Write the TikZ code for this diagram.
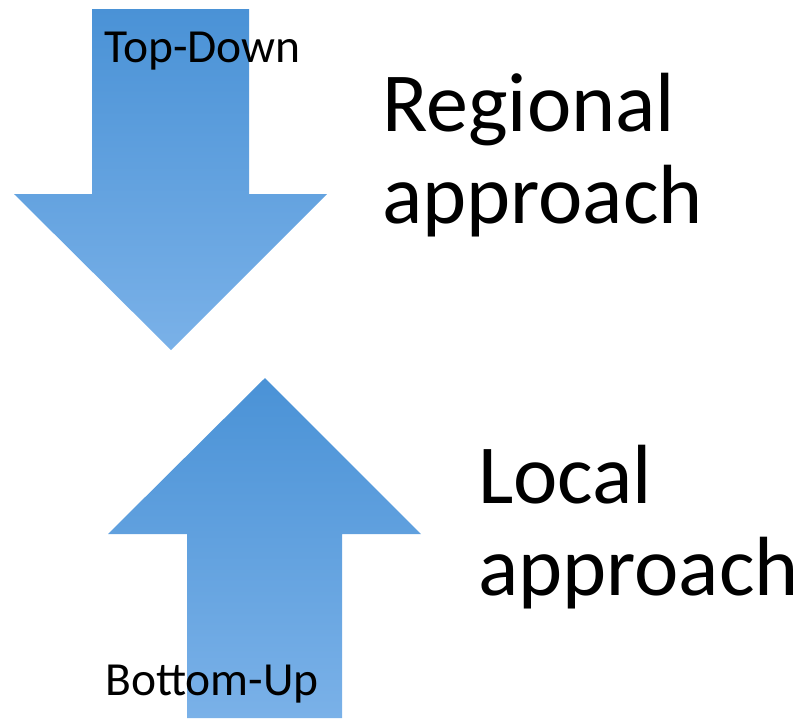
\documentclass[tikz,border=0pt]{standalone}
\usepackage{fontspec}
\setmainfont{Carlito}
\definecolor{arrowtop}{RGB}{74,146,214}
\definecolor{arrowbot}{RGB}{122,177,232}
\begin{document}
\begin{tikzpicture}[x=1pt,y=-1pt,
  bigarrow/.style={top color=arrowtop,bottom color=arrowbot,draw=none},
  smalllabel/.style={anchor=base west,inner sep=0pt,font=\fontsize{47.5}{50}\selectfont},
  biglabel/.style={anchor=base west,inner sep=0pt,align=left,font=\fontsize{84}{92}\selectfont}]
\useasboundingbox (0,0) rectangle (808,718);
% down arrow
\path[bigarrow] (92,9) -- (249,9) -- (249,194) -- (327,194) -- (171,350) -- (14,194) -- (92,194) -- cycle;
% up arrow
\path[bigarrow] (265,378) -- (421,534) -- (342,534) -- (342,718) -- (187,718) -- (187,534) -- (108,534) -- cycle;
\node[smalllabel] (td) at (104,62) {Top-Down};
\node[smalllabel] (bu) at (105,695) {Bottom-Up};
\node[biglabel] (reg) at (382,223) {Regional\\approach};
\node[biglabel] (loc) at (478,595) {Local\\approach};
\end{tikzpicture}
\end{document}
